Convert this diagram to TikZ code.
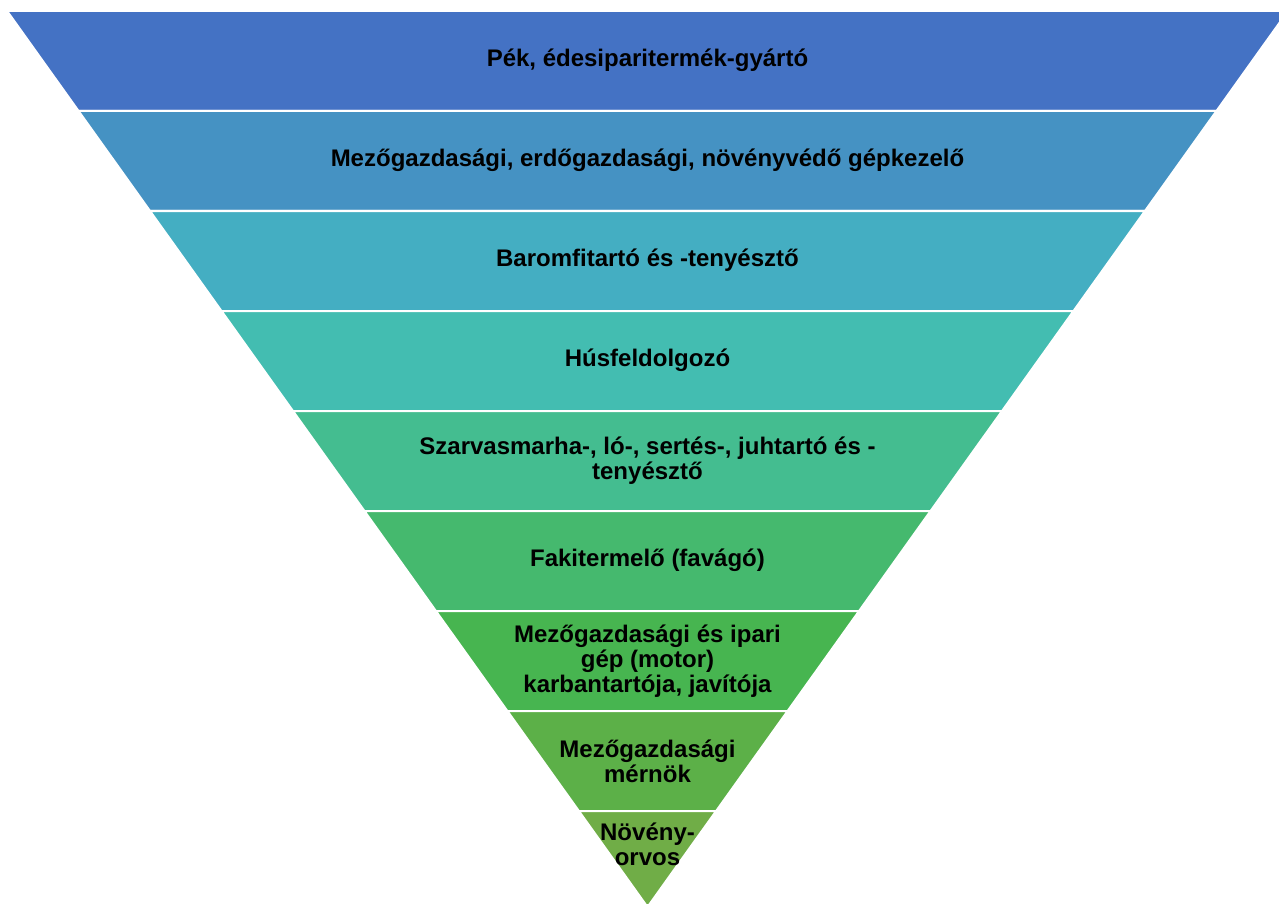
\documentclass[tikz,border=0pt]{standalone}
\usepackage{fontspec}
\setmainfont{Liberation Sans}
\usepackage{tikz}

\definecolor{bandA}{HTML}{4472C4}
\definecolor{bandB}{HTML}{4592C3}
\definecolor{bandC}{HTML}{44AEC2}
\definecolor{bandD}{HTML}{43BDB1}
\definecolor{bandE}{HTML}{44BD90}
\definecolor{bandF}{HTML}{45B96E}
\definecolor{bandG}{HTML}{47B550}
\definecolor{bandH}{HTML}{5CB048}
\definecolor{bandI}{HTML}{70AD47}

\tikzset{
	bandtext/.style={align=center, inner sep=0pt, text=black,
		font=\fontsize{24}{25}\selectfont\bfseries}
}

\begin{document}
\begin{tikzpicture}[x=1pt,y=-1pt]
	\useasboundingbox (0,0) rectangle (1279,904);
	% funnel bands, apex at (647.5,907)
	\foreach \k/\col in {0/bandA,1/bandB,2/bandC,3/bandD,4/bandE,5/bandF,6/bandG,7/bandH,8/bandI}{
		\pgfmathsetmacro{\yt}{11+100*\k}
		\pgfmathsetmacro{\yb}{min(\yt+100,907)}
		\pgfmathsetmacro{\wt}{(907-\yt)*0.71473}
		\pgfmathsetmacro{\wb}{(907-\yb)*0.71473}
		\filldraw[fill=\col, draw=white, line width=2pt]
			(647.5-\wt,\yt) -- (647.5+\wt,\yt) -- (647.5+\wb,\yb) -- (647.5-\wb,\yb) -- cycle;
	}

	\node[bandtext] (pek) at (647.5,60.5) {Pék, édesiparitermék-gyártó};
	\node[bandtext] (gepkezelo) at (647.5,160.5) {Mezőgazdasági, erdőgazdasági, növényvédő gépkezelő};
	\node[bandtext] (baromfi) at (647.5,260.5) {Baromfitartó és -tenyésztő};
	\node[bandtext] (hus) at (647.5,360.5) {Húsfeldolgozó};
	\node[bandtext] (allattarto) at (647.5,460.5) {Szarvasmarha-, ló-, sertés-, juhtartó és -\\tenyésztő};
	\node[bandtext] (fakitermelo) at (647.5,560.5) {Fakitermelő (favágó)};
	\node[bandtext] (karbantarto) at (647.5,661) {Mezőgazdasági és ipari\\gép (motor)\\karbantartója, javítója};
	\node[bandtext] (mernok) at (647.5,761) {Mezőgazdasági\\mérnök};
	\node[bandtext] (novenyorvos) at (647.5,844) {Növény-\\orvos};
\end{tikzpicture}
\end{document}
